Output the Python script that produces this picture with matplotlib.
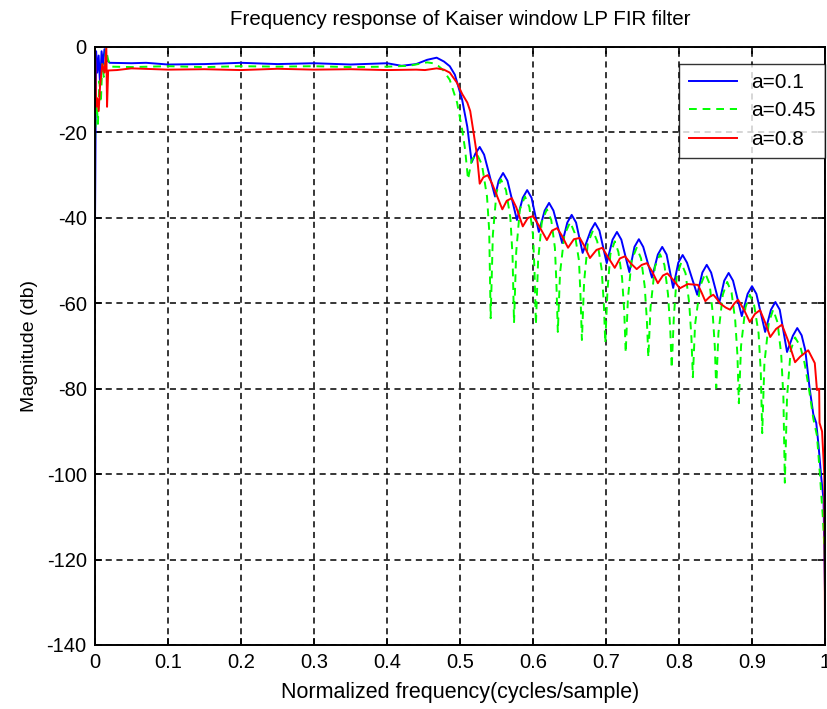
import matplotlib
matplotlib.use("Agg")
import matplotlib.pyplot as plt

plt.rcParams['font.family'] = ['Liberation Sans', 'DejaVu Sans']
plt.rcParams['axes.unicode_minus'] = False

# values (frequency, dB)
blue_f = [0, 0.0015, 0.003, 0.005, 0.007, 0.009, 0.011, 0.013, 0.016, 0.02,
          0.05, 0.07, 0.1, 0.15, 0.2, 0.25, 0.3, 0.35, 0.4, 0.42, 0.44,
          0.455, 0.468, 0.478, 0.486, 0.493, 0.503, 0.510, 0.516,
          0.521, 0.527, 0.533, 0.548, 0.553, 0.559, 0.565, 0.578,
          0.586, 0.592, 0.598, 0.608, 0.616, 0.622, 0.628, 0.640,
          0.647, 0.653, 0.659, 0.668, 0.679, 0.685, 0.691, 0.701,
          0.709, 0.715, 0.721, 0.732, 0.739, 0.745, 0.751, 0.763,
          0.771, 0.777, 0.783, 0.792, 0.799, 0.805, 0.811, 0.825,
          0.832, 0.838, 0.844, 0.855, 0.862, 0.868, 0.874, 0.886,
          0.894, 0.900, 0.906, 0.918, 0.926, 0.932, 0.938, 0.948,
          0.956, 0.962, 0.968, 0.973, 0.979, 0.984, 0.988, 0.991,
          0.995, 0.998, 1.000]
blue_db = [-42, -1, -6, -2, -9, -1, -4, -0.5, -3, -3.7,
           -3.8, -3.7, -4.1, -4.0, -3.7, -4.0, -3.8, -4.1, -3.8, -4.4, -4.0,
           -3.0, -2.5, -3.4, -4.5, -6.5, -12.4, -18.7, -27.0,
           -25.0, -23.4, -25.2, -35.0, -31.3, -29.5, -31.3, -40.5,
           -35.3, -33.5, -35.3, -43.3, -38.3, -36.5, -38.3, -45.9,
           -41.1, -39.3, -41.1, -48.2, -43.0, -41.2, -43.0, -50.6,
           -45.1, -43.3, -45.1, -52.7, -46.8, -45.0, -46.8, -54.0,
           -48.6, -46.8, -48.6, -56.4, -50.5, -48.7, -50.5, -58.0,
           -52.8, -51.0, -52.8, -60.0, -54.7, -52.9, -54.7, -63.0,
           -57.8, -56.0, -57.8, -66.7, -61.5, -59.7, -61.5, -71.4,
           -67.6, -65.8, -67.5, -71.0, -80.0, -86.0, -88.0, -93.0,
           -101.0, -106.0, -128.0]

green_f = [0, 0.002, 0.004, 0.006, 0.008, 0.010, 0.012, 0.015, 0.018, 0.022,
           0.05, 0.1, 0.15, 0.2, 0.25, 0.3, 0.35, 0.4, 0.43, 0.455, 0.463,
           0.470, 0.477, 0.486, 0.496, 0.503, 0.507, 0.511,
           0.516, 0.523, 0.530, 0.537, 0.540, 0.542,
           0.545, 0.550, 0.556, 0.563, 0.569, 0.572, 0.574,
           0.577, 0.582, 0.589, 0.595, 0.600, 0.602, 0.604,
           0.607, 0.612, 0.619, 0.625, 0.630, 0.632, 0.634,
           0.637, 0.643, 0.651, 0.657, 0.663, 0.665, 0.667,
           0.670, 0.675, 0.682, 0.688, 0.694, 0.697, 0.699,
           0.702, 0.706, 0.712, 0.717, 0.722, 0.725, 0.727,
           0.730, 0.735, 0.742, 0.748, 0.753, 0.756, 0.758,
           0.761, 0.767, 0.774, 0.780, 0.785, 0.788, 0.790,
           0.793, 0.797, 0.803, 0.809, 0.814, 0.817, 0.819,
           0.822, 0.829, 0.836, 0.842, 0.846, 0.849, 0.851,
           0.854, 0.860, 0.866, 0.872, 0.877, 0.880, 0.882,
           0.885, 0.891, 0.897, 0.903, 0.909, 0.912, 0.914,
           0.917, 0.923, 0.929, 0.935, 0.940, 0.943, 0.945,
           0.948, 0.953, 0.959, 0.966, 0.972, 0.978, 0.984, 0.989,
           0.993, 0.997, 1.000]
green_db = [-22, -12, -18, -8, -13, -4, -7, -0.5, -3, -4.6,
            -4.7, -4.5, -4.7, -4.5, -4.6, -4.5, -4.7, -4.6, -4.4, -3.6, -3.8,
            -4.4, -5.4, -7.7, -13.0, -19.4, -24.0, -31.0,
            -26.5, -25.0, -27.5, -35.0, -43.0, -63.5,
            -44.0, -34.0, -31.0, -33.5, -40.0, -49.0, -64.6,
            -48.0, -38.0, -35.0, -37.5, -44.0, -52.0, -65.0,
            -50.0, -41.0, -38.0, -40.5, -47.0, -55.0, -66.7,
            -53.0, -44.0, -41.0, -43.5, -50.0, -58.0, -68.6,
            -55.0, -46.0, -43.0, -45.5, -52.0, -60.0, -69.3,
            -57.0, -48.5, -45.5, -48.0, -54.0, -62.0, -71.6,
            -59.0, -50.0, -47.0, -49.5, -56.0, -64.0, -72.6,
            -61.0, -51.5, -48.5, -51.0, -58.0, -66.0, -75.2,
            -63.0, -53.5, -50.5, -53.0, -60.0, -68.0, -77.3,
            -65.0, -56.0, -53.0, -55.5, -62.0, -70.0, -79.8,
            -67.0, -58.0, -55.0, -57.5, -64.0, -72.0, -83.4,
            -70.0, -61.0, -58.0, -60.5, -67.0, -76.0, -90.4,
            -74.0, -64.5, -61.5, -64.5, -72.0, -82.0, -102.0,
            -82.0, -71.0, -68.0, -70.0, -74.0, -80.0, -87.0, -91.0,
            -100.0, -110.0, -120.0]

red_f = [0, 0.0015, 0.003, 0.005, 0.007, 0.010, 0.013, 0.0155, 0.0165, 0.018,
         0.03, 0.05, 0.1, 0.15, 0.2, 0.25, 0.3, 0.35, 0.4, 0.44, 0.452,
         0.468, 0.478, 0.486, 0.496, 0.503, 0.510, 0.514, 0.518, 0.523,
         0.527, 0.532, 0.538, 0.544, 0.558, 0.564, 0.571, 0.577, 0.586,
         0.593, 0.600, 0.607, 0.619, 0.626, 0.633, 0.639, 0.648, 0.656,
         0.664, 0.670, 0.678, 0.687, 0.695, 0.702, 0.712, 0.719, 0.726,
         0.733, 0.742, 0.749, 0.756, 0.763, 0.771, 0.778, 0.784, 0.792,
         0.801, 0.812, 0.826, 0.831, 0.836, 0.842, 0.847, 0.852, 0.856,
         0.864, 0.870, 0.876, 0.881, 0.889, 0.897, 0.904, 0.911, 0.918,
         0.925, 0.933, 0.941, 0.950, 0.959, 0.966, 0.977, 0.986, 0.989,
         0.992, 0.9925, 0.996, 0.999, 1.0]
red_db = [-0.3, -14, -12, -15, -9, -4, -6, -0.3, -14, -5.5,
          -5.4, -5.0, -5.3, -5.2, -5.4, -5.1, -5.3, -5.2, -5.4, -5.3, -5.4,
          -5.0, -5.3, -6.0, -8.4, -11.0, -13.0, -15.0, -19.4, -25.0,
          -32.0, -30.5, -30.0, -32.0, -38.0, -36.0, -35.4, -37.5, -42.0,
          -40.0, -39.6, -41.5, -45.2, -43.0, -42.4, -44.0, -47.0, -45.0,
          -44.7, -46.5, -49.4, -47.5, -47.0, -49.0, -51.7, -49.5, -49.0,
          -50.5, -52.0, -51.0, -50.6, -52.5, -55.3, -53.5, -53.0, -54.5,
          -56.5, -55.5, -55.7, -57.5, -59.5, -58.5, -58.0, -59.0, -60.0,
          -61.0, -61.5, -60.0, -59.2, -61.5, -64.4, -62.5, -61.6, -64.5,
          -67.9, -66.0, -65.0, -69.0, -73.8, -72.5, -71.0, -74.0, -80.3,
          -80.0, -88.0, -90.0, -100.0, -137.0]

labels = ['a=0.1', 'a=0.45', 'a=0.8']
x_ticks = [0, 0.1, 0.2, 0.3, 0.4, 0.5, 0.6, 0.7, 0.8, 0.9, 1]
x_ticklabels = ['0', '0.1', '0.2', '0.3', '0.4', '0.5', '0.6', '0.7', '0.8', '0.9', '1']
y_ticks = [-140, -120, -100, -80, -60, -40, -20, 0]

fig = plt.figure(figsize=(8.27, 7.09), dpi=100)
ax = fig.add_axes([95 / 827, 64 / 709, 730 / 827, 598 / 709])

ax.plot(blue_f, blue_db, color=(0, 0, 1), linewidth=1.4, label=labels[0])
ax.plot(green_f, green_db, color=(0, 1, 0), linewidth=1.4,
        dashes=(4, 3), label=labels[1])
ax.plot(red_f, red_db, color=(1, 0, 0), linewidth=1.4, label=labels[2])

ax.set_xlim(0, 1)
ax.set_ylim(-140, 0)
ax.set_xticks(x_ticks)
ax.set_xticklabels(x_ticklabels)
ax.set_yticks(y_ticks)
ax.grid(True, color='black', linewidth=1.1, linestyle=(0, (4, 3)))
ax.tick_params(direction='in', length=5, width=1.2, top=True, right=True,
               labelsize=14.5, pad=6)
for s in ax.spines.values():
    s.set_linewidth(1.4)

ax.set_title('Frequency response of Kaiser window LP FIR filter',
             fontsize=14.8, pad=16)
ax.set_xlabel('Normalized frequency(cycles/sample)', fontsize=15.5, labelpad=7)
ax.set_ylabel('Magnitude (db)', fontsize=14, labelpad=6)

leg = ax.legend(loc='upper right', bbox_to_anchor=(1.0, 0.972), fontsize=15,
                frameon=True, fancybox=False, edgecolor='black',
                borderaxespad=0, handlelength=2.3, handletextpad=0.7,
                labelspacing=0.45, borderpad=0.45)
leg.get_frame().set_linewidth(1.0)

fig.savefig('out.png', dpi=100, facecolor='white')
